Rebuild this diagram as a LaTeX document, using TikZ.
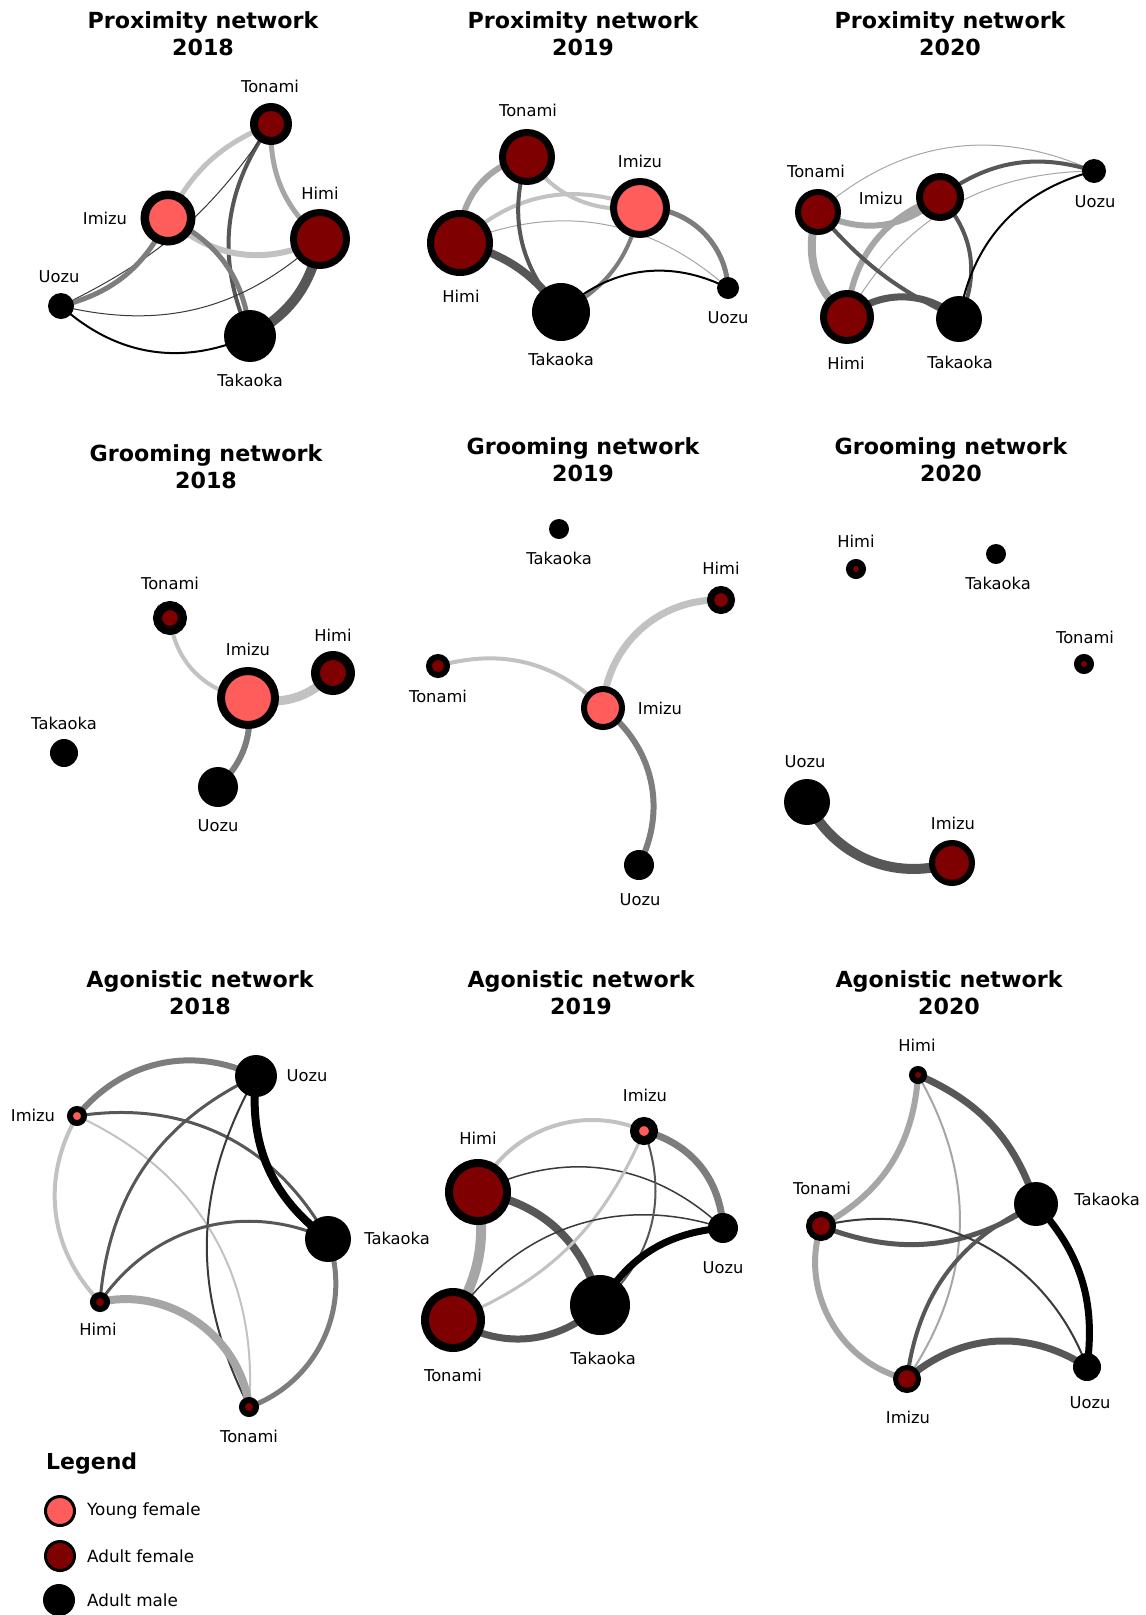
\documentclass[tikz,border=0pt]{standalone}
\usepackage{fontspec}
\setmainfont{DejaVu Sans}
\definecolor{youngc}{HTML}{FF5C5C}
\definecolor{adultc}{HTML}{7F0000}
\definecolor{ea}{HTML}{C2C2C2}
\definecolor{eb}{HTML}{A6A6A6}
\definecolor{ec}{HTML}{7D7D7D}
\definecolor{ed}{HTML}{575757}
\definecolor{ee}{HTML}{3A3A3A}
\pgfdeclarelayer{bg}
\pgfdeclarelayer{edges}
\pgfsetlayers{bg,edges,main}
\begin{document}
\begin{tikzpicture}[x=1pt,y=1pt,
  young/.style 2 args={circle,inner sep=0pt,draw=black,fill=youngc,minimum size={(#1+#2)*1pt},line width={(#1-#2)*1pt}},
  adult/.style 2 args={circle,inner sep=0pt,draw=black,fill=adultc,minimum size={(#1+#2)*1pt},line width={(#1-#2)*1pt}},
  male/.style={circle,inner sep=0pt,fill=black,minimum size={2*#1*1pt}},
  lbl/.style={font=\fontsize{16.3}{19}\selectfont,inner sep=0pt},
  leglbl/.style={font=\fontsize{16.8}{20}\selectfont,inner sep=0pt,anchor=west},
  ttl/.style={font=\fontsize{22.2}{27}\selectfont\bfseries,align=center,inner sep=0pt},
]
\begin{pgfonlayer}{bg}
\fill[white] (0,0) rectangle (1146,-1615);
\end{pgfonlayer}
\useasboundingbox (0,0) rectangle (1146,-1615);

% ---------- Titles ----------
\node[ttl] (ta) at (203,-34) {Proximity network\\2018};
\node[ttl] (tb) at (583,-34) {Proximity network\\2019};
\node[ttl] (tc) at (950,-34) {Proximity network\\2020};
\node[ttl] (td) at (206,-467) {Grooming network\\2018};
\node[ttl] (te) at (583,-460) {Grooming network\\2019};
\node[ttl] (tf) at (951,-460) {Grooming network\\2020};
\node[ttl] (tg) at (200,-993) {Agonistic network\\2018};
\node[ttl] (th) at (581,-993) {Agonistic network\\2019};
\node[ttl] (ti) at (949,-993) {Agonistic network\\2020};

% ---------- Proximity 2018 ----------
\node[adult={21}{13}] (aT) at (271,-124) {};
\node[young={27.5}{19}] (aI) at (168,-218) {};
\node[adult={30}{23}] (aH) at (320,-239) {};
\node[male=13] (aU) at (61,-306) {};
\node[male=26] (aK) at (250,-336) {};
\node[lbl] (aTl) at (270,-86) {Tonami};
\node[lbl] (aIl) at (105,-218) {Imizu};
\node[lbl] (aHl) at (320,-193) {Himi};
\node[lbl] (aUl) at (59,-277) {Uozu};
\node[lbl] (aKl) at (250,-380) {Takaoka};

% ---------- Proximity 2019 ----------
\node[adult={28}{21}] (bT) at (527,-157) {};
\node[young={30}{23}] (bI) at (640,-208) {};
\node[adult={33}{26}] (bH) at (460,-243) {};
\node[male=29] (bK) at (561,-312) {};
\node[male=11] (bU) at (728,-288) {};
\node[lbl] (bTl) at (528,-110) {Tonami};
\node[lbl] (bIl) at (640,-161) {Imizu};
\node[lbl] (bHl) at (461,-296) {Himi};
\node[lbl] (bKl) at (561,-359) {Takaoka};
\node[lbl] (bUl) at (728,-318) {Uozu};

% ---------- Proximity 2020 ----------
\node[adult={23}{17}] (cT) at (818,-212) {};
\node[adult={24}{17}] (cI) at (940,-197) {};
\node[male=12] (cU) at (1094,-171) {};
\node[adult={27}{20}] (cH) at (847,-317) {};
\node[male=23] (cK) at (959,-319) {};
\node[lbl] (cTl) at (816,-171) {Tonami};
\node[lbl] (cIl) at (881,-198) {Imizu};
\node[lbl] (cUl) at (1095,-202) {Uozu};
\node[lbl] (cHl) at (846,-363) {Himi};
\node[lbl] (cKl) at (960,-362) {Takaoka};

% ---------- Grooming 2018 ----------
\node[adult={17}{8}] (dT) at (170,-618) {};
\node[young={31}{23}] (dI) at (248,-698) {};
\node[adult={22}{13}] (dH) at (333,-673) {};
\node[male=14] (dK) at (64,-753) {};
\node[male=20] (dU) at (218,-787) {};
\node[lbl] (dTl) at (170,-583) {Tonami};
\node[lbl] (dIl) at (248,-649) {Imizu};
\node[lbl] (dHl) at (333,-635) {Himi};
\node[lbl] (dKl) at (64,-723) {Takaoka};
\node[lbl] (dUl) at (218,-826) {Uozu};

% ---------- Grooming 2019 ----------
\node[male=10] (eK) at (559,-529) {};
\node[adult={14}{7}] (eH) at (721,-600) {};
\node[adult={12}{6}] (eT) at (438,-666) {};
\node[young={22}{16}] (eI) at (603,-708) {};
\node[male=15] (eU) at (639,-865) {};
\node[lbl] (eKl) at (559,-558) {Takaoka};
\node[lbl] (eHl) at (721,-568) {Himi};
\node[lbl] (eTl) at (438,-696) {Tonami};
\node[lbl] (eIl) at (660,-708) {Imizu};
\node[lbl] (eUl) at (640,-900) {Uozu};

% ---------- Grooming 2020 ----------
\node[adult={10}{3}] (fH) at (856,-569) {};
\node[male=10] (fK) at (996,-554) {};
\node[adult={10}{3}] (fT) at (1084,-664) {};
\node[male=23] (fU) at (807,-802) {};
\node[adult={23}{17}] (fI) at (952,-863) {};
\node[lbl] (fHl) at (856,-541) {Himi};
\node[lbl] (fKl) at (998,-583) {Takaoka};
\node[lbl] (fTl) at (1085,-637) {Tonami};
\node[lbl] (fUl) at (805,-762) {Uozu};
\node[lbl] (fIl) at (953,-823) {Imizu};

% ---------- Agonistic 2018 ----------
\node[male=21] (gU) at (256,-1076) {};
\node[young={10}{4}] (gI) at (77,-1116) {};
\node[male=23] (gK) at (328,-1239) {};
\node[adult={10}{4}] (gH) at (100,-1302) {};
\node[adult={10}{4}] (gT) at (249,-1407) {};
\node[lbl] (gUl) at (307,-1076) {Uozu};
\node[lbl] (gIl) at (33,-1115) {Imizu};
\node[lbl] (gKl) at (397,-1238) {Takaoka};
\node[lbl] (gHl) at (98,-1329) {Himi};
\node[lbl] (gTl) at (249,-1436) {Tonami};

% ---------- Agonistic 2019 ----------
\node[young={14}{5}] (hI) at (644,-1131) {};
\node[adult={33}{25}] (hH) at (478,-1192) {};
\node[male=15] (hU) at (723,-1228) {};
\node[adult={32}{24}] (hT) at (453,-1320) {};
\node[male=30] (hK) at (600,-1305) {};
\node[lbl] (hIl) at (645,-1095) {Imizu};
\node[lbl] (hHl) at (478,-1138) {Himi};
\node[lbl] (hUl) at (723,-1268) {Uozu};
\node[lbl] (hTl) at (453,-1375) {Tonami};
\node[lbl] (hKl) at (603,-1358) {Takaoka};

% ---------- Agonistic 2020 ----------
\node[adult={9}{3}] (iH) at (918,-1075) {};
\node[male=22] (iK) at (1036,-1204) {};
\node[adult={15}{9}] (iT) at (821,-1226) {};
\node[adult={14}{9}] (iI) at (907,-1379) {};
\node[male=14] (iU) at (1087,-1367) {};
\node[lbl] (iHl) at (917,-1045) {Himi};
\node[lbl] (iKl) at (1107,-1199) {Takaoka};
\node[lbl] (iTl) at (822,-1188) {Tonami};
\node[lbl] (iIl) at (908,-1417) {Imizu};
\node[lbl] (iUl) at (1090,-1403) {Uozu};

% ---------- Legend ----------
\node[font=\fontsize{22}{26}\selectfont\bfseries,inner sep=0pt,anchor=west] (leg) at (46,-1463) {Legend};
\node[young={16}{13}] (lY) at (60,-1511) {};
\node[adult={16}{13}] (lA) at (60,-1556) {};
\node[male=16] (lM) at (59,-1600) {};
\node[leglbl] (lYl) at (87,-1511) {Young female};
\node[leglbl] (lAl) at (87,-1556) {Adult female};
\node[leglbl] (lMl) at (87,-1600) {Adult male};

% ---------- Edges ----------
\begin{pgfonlayer}{edges}
% Proximity 2018
\draw[ea,line width=5] (aI.center) to[bend left=20] (aT.center);
\draw[eb,line width=5] (aT.center) to[bend right=25] (aH.center);
\draw[ed,line width=4] (aT.center) to[bend right=30] (aK.center);
\draw[ee,line width=1] (aU.center) to[bend right=15] (aT.center);
\draw[ea,line width=6] (aI.center) to[bend right=35] (aH.center);
\draw[ec,line width=5] (aI.center) to[bend left=30] (aK.center);
\draw[ec,line width=5] (aI.center) to[bend left=25] (aU.center);
\draw[ed,line width=10] (aH.center) to[bend left=25] (aK.center);
\draw[ee,line width=1] (aH.center) to[bend left=28] (aU.center);
\draw[black,line width=2] (aU.center) to[bend right=33] (aK.center);
% Proximity 2019
\draw[eb,line width=6] (bH.center) to[bend left=40] (bT.center);
\draw[ea,line width=4] (bT.center) to[bend right=30] (bI.center);
\draw[ea,line width=4] (bH.center) to[bend left=33] (bI.center);
\draw[eb,line width=1] (bH.center) to[bend left=32] (bU.center);
\draw[ed,line width=4] (bT.center) to[bend right=30] (bK.center);
\draw[ed,line width=8] (bH.center) to[bend left=20] (bK.center);
\draw[ec,line width=4] (bI.center) to[bend left=25] (bK.center);
\draw[ec,line width=5] (bI.center) to[bend left=45] (bU.center);
\draw[black,line width=2] (bK.center) to[bend left=35] (bU.center);
% Proximity 2020
\draw[eb,line width=1] (cT.center) to[bend left=33] (cU.center);
\draw[ed,line width=4] (cI.center) to[bend left=27] (cU.center);
\draw[eb,line width=1] (cH.center) to[bend left=30] (cU.center);
\draw[eb,line width=6] (cT.center) to[bend right=35] (cI.center);
\draw[eb,line width=6] (cH.center) to[bend left=33] (cI.center);
\draw[eb,line width=8] (cT.center) to[bend right=35] (cH.center);
\draw[ed,line width=4] (cT.center) to[bend right=12] (cK.center);
\draw[ed,line width=7] (cH.center) to[bend left=40] (cK.center);
\draw[ed,line width=4] (cI.center) to[bend left=35] (cK.center);
\draw[black,line width=2] (cK.center) to[bend left=33] (cU.center);
% Grooming 2018
\draw[ea,line width=4] (dT.center) to[bend right=38] (dI.center);
\draw[ea,line width=9] (dI.center) to[bend right=30] (dH.center);
\draw[ec,line width=6] (dI.center) to[bend left=27] (dU.center);
% Grooming 2019
\draw[ea,line width=4] (eT.center) to[bend left=30] (eI.center);
\draw[ea,line width=7] (eI.center) to[bend left=44] (eH.center);
\draw[ec,line width=6] (eI.center) to[bend left=40] (eU.center);
% Grooming 2020
\draw[ed,line width=10] (fU.center) to[bend right=40] (fI.center);
% Agonistic 2018
\draw[ec,line width=6] (gI.center) to[bend left=38] (gU.center);
\draw[ea,line width=4] (gI.center) to[bend right=37] (gH.center);
\draw[ed,line width=3] (gI.center) to[bend left=35] (gK.center);
\draw[ea,line width=2] (gI.center) to[bend left=35] (gT.center);
\draw[ed,line width=3] (gU.center) to[bend right=30] (gH.center);
\draw[ee,line width=2] (gU.center) to[bend right=28] (gT.center);
\draw[black,line width=8] (gU.center) to[bend right=30] (gK.center);
\draw[ed,line width=3] (gH.center) to[bend left=40] (gK.center);
\draw[eb,line width=8] (gH.center) to[bend left=48] (gT.center);
\draw[ec,line width=5] (gK.center) to[bend left=45] (gT.center);
% Agonistic 2019
\draw[ea,line width=4] (hH.center) to[bend left=44] (hI.center);
\draw[ec,line width=7] (hI.center) to[bend left=36] (hU.center);
\draw[ee,line width=1.5] (hH.center) to[bend left=35] (hU.center);
\draw[eb,line width=10] (hH.center) to[bend left=20] (hT.center);
\draw[ed,line width=8] (hH.center) to[bend left=33] (hK.center);
\draw[ea,line width=3] (hT.center) to[bend right=22] (hI.center);
\draw[ee,line width=1.5] (hT.center) to[bend left=37] (hU.center);
\draw[ed,line width=2] (hI.center) to[bend left=35] (hK.center);
\draw[black,line width=7] (hK.center) to[bend left=27] (hU.center);
\draw[ed,line width=7] (hT.center) to[bend right=37] (hK.center);
% Agonistic 2020
\draw[eb,line width=6] (iH.center) to[bend left=29] (iT.center);
\draw[ed,line width=7] (iH.center) to[bend left=24] (iK.center);
\draw[eb,line width=2] (iH.center) to[bend left=32] (iI.center);
\draw[ed,line width=5] (iT.center) to[bend right=27] (iK.center);
\draw[ee,line width=2] (iT.center) to[bend left=42] (iU.center);
\draw[eb,line width=6] (iT.center) to[bend right=48] (iI.center);
\draw[ed,line width=4] (iK.center) to[bend right=29] (iI.center);
\draw[black,line width=7] (iK.center) to[bend left=25] (iU.center);
\draw[ed,line width=7] (iI.center) to[bend left=37] (iU.center);
\end{pgfonlayer}
\end{tikzpicture}
\end{document}
